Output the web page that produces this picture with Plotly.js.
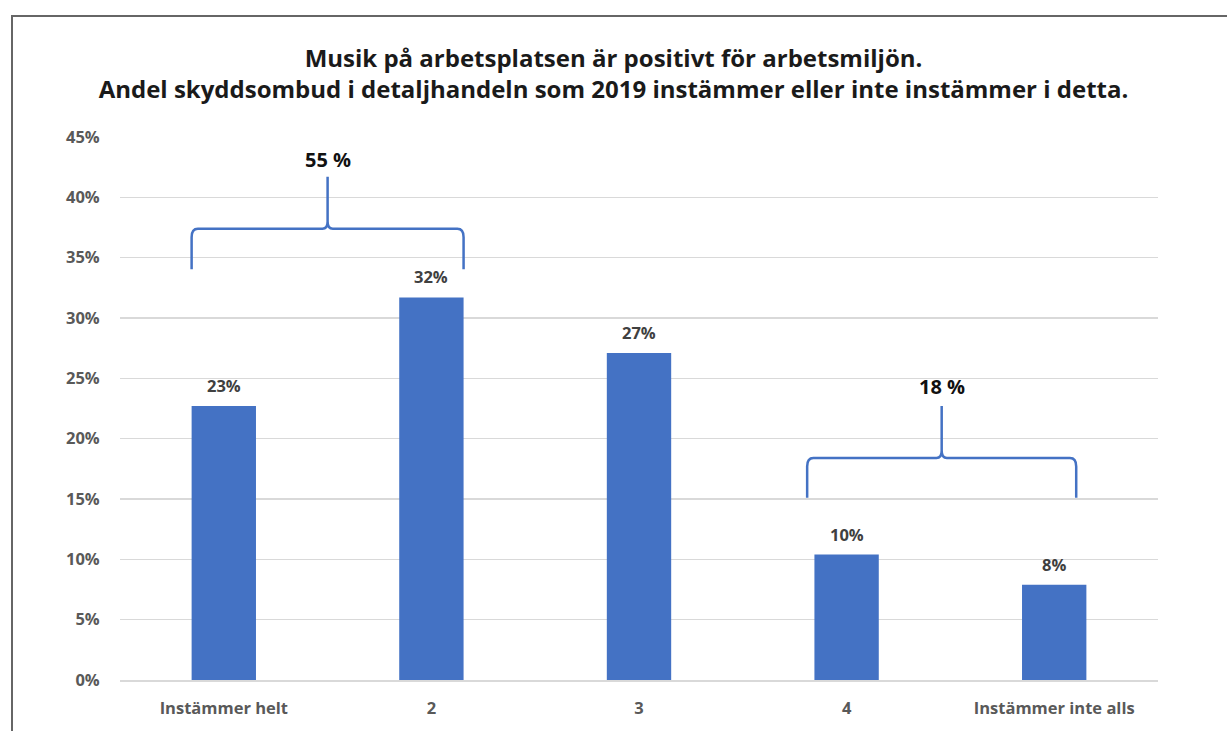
<!DOCTYPE html>
<html><head><meta charset="utf-8">
<script src="https://cdn.plot.ly/plotly-3.0.1.min.js"></script>
<style>
html,body{margin:0;padding:0;background:#fff;}
#wrap{position:relative;width:1227px;height:731px;}
#chart{position:absolute;left:0;top:0;width:1227px;height:731px;}
#frame{position:absolute;left:11px;top:15px;width:1240px;height:740px;border-left:2px solid #666;border-top:2px solid #666;pointer-events:none;}
</style></head>
<body><div id="wrap"><div id="chart"></div><div id="frame"></div></div>
<script>
const categories = ["Instämmer helt", "2", "3", "4", "Instämmer inte alls"];
const values = [22.7, 31.7, 27.1, 10.4, 7.9];
const dataLabels = ["23%", "32%", "27%", "10%", "8%"];
const groups = [
  {label: "55 %", from: 0, to: 1},
  {label: "18 %", from: 3, to: 4}
];
const yTicks = [0, 5, 10, 15, 20, 25, 30, 35, 40, 45];

const blue = "#4472C4";
const barW = 0.31;
const FONT = "Open Sans, Liberation Sans, sans-serif";

function bracePath(x0, x1, yb, yh, ytip) {
  const xm = (x0 + x1) / 2;
  const d = 0.03, c = 0.7, dm = 0.025, cm = 0.6;
  return `M ${x0},${yb} L ${x0},${yh - c} Q ${x0},${yh} ${x0 + d},${yh} ` +
         `L ${xm - dm},${yh} Q ${xm},${yh} ${xm},${yh + cm} L ${xm},${ytip} ` +
         `M ${xm},${yh + cm} Q ${xm},${yh} ${xm + dm},${yh} ` +
         `L ${x1 - d},${yh} Q ${x1},${yh} ${x1},${yh - c} L ${x1},${yb}`;
}

const shapes = [];
const annotations = [];
groups.forEach((g, i) => {
  let x0, x1, yb, yh, ytip, ylab;
  if (i === 0) { x0 = g.from - barW/2; x1 = g.to + barW/2; yb = 34.05; yh = 37.4; ytip = 41.7; ylab = 43.1; }
  else { x0 = g.from - 0.19; x1 = g.to + 0.106; yb = 15.1; yh = 18.4; ytip = 22.7; ylab = 24.3; }
  shapes.push({type: "path", xref: "x", yref: "y", path: bracePath(x0, x1, yb, yh, ytip),
    line: {color: blue, width: 2.5}});
  annotations.push({x: (x0 + x1) / 2, y: ylab, xref: "x", yref: "y", text: "<b>" + g.label + "</b>",
    showarrow: false, font: {family: FONT, size: 20, color: "#111"}});
});

categories.forEach((c, i) => {
  annotations.push({x: i, y: values[i], xref: "x", yref: "y", text: "<b>" + dataLabels[i] + "</b>",
    showarrow: false, yanchor: "bottom", yshift: 7,
    font: {family: FONT, size: 16.5, color: "#404040"}});
});

const trace = {
  type: "bar",
  x: categories,
  y: values,
  width: barW,
  marker: {color: blue},
  hoverinfo: "skip"
};

const layout = {
  width: 1227, height: 731,
  margin: {l: 120, r: 69, t: 137, b: 51},
  paper_bgcolor: "#fff", plot_bgcolor: "#fff",
  showlegend: false,
  title: {
    text: "<b>Musik på arbetsplatsen är positivt för arbetsmiljön.<br>Andel skyddsombud i detaljhandeln som 2019 instämmer eller inte instämmer i detta.</b>",
    x: 0.5, xanchor: "center", y: 0.908, yanchor: "middle",
    font: {family: FONT, size: 24, color: "#1a1a1a"}
  },
  xaxis: {
    type: "category",
    tickfont: {family: FONT, size: 16.5, color: "#595959", weight: "bold"},
    ticks: "outside", ticklen: 13, tickcolor: "rgba(0,0,0,0)",
    showline: true, linecolor: "#d9d9d9", linewidth: 1.5,
    showgrid: false, fixedrange: true
  },
  yaxis: {
    range: [0, 45], tickvals: yTicks, ticktext: yTicks.map(v => v + "%"),
    tickfont: {family: FONT, size: 16.5, color: "#595959", weight: "bold"},
    ticks: "outside", ticklen: 16, tickcolor: "rgba(0,0,0,0)",
    showgrid: true, gridcolor: "#d9d9d9", gridwidth: 1.5,
    zeroline: false, showline: false, fixedrange: true
  },
  shapes: shapes,
  annotations: annotations
};

Plotly.newPlot("chart", [trace], layout, {displayModeBar: false, staticPlot: true});
</script></body></html>
